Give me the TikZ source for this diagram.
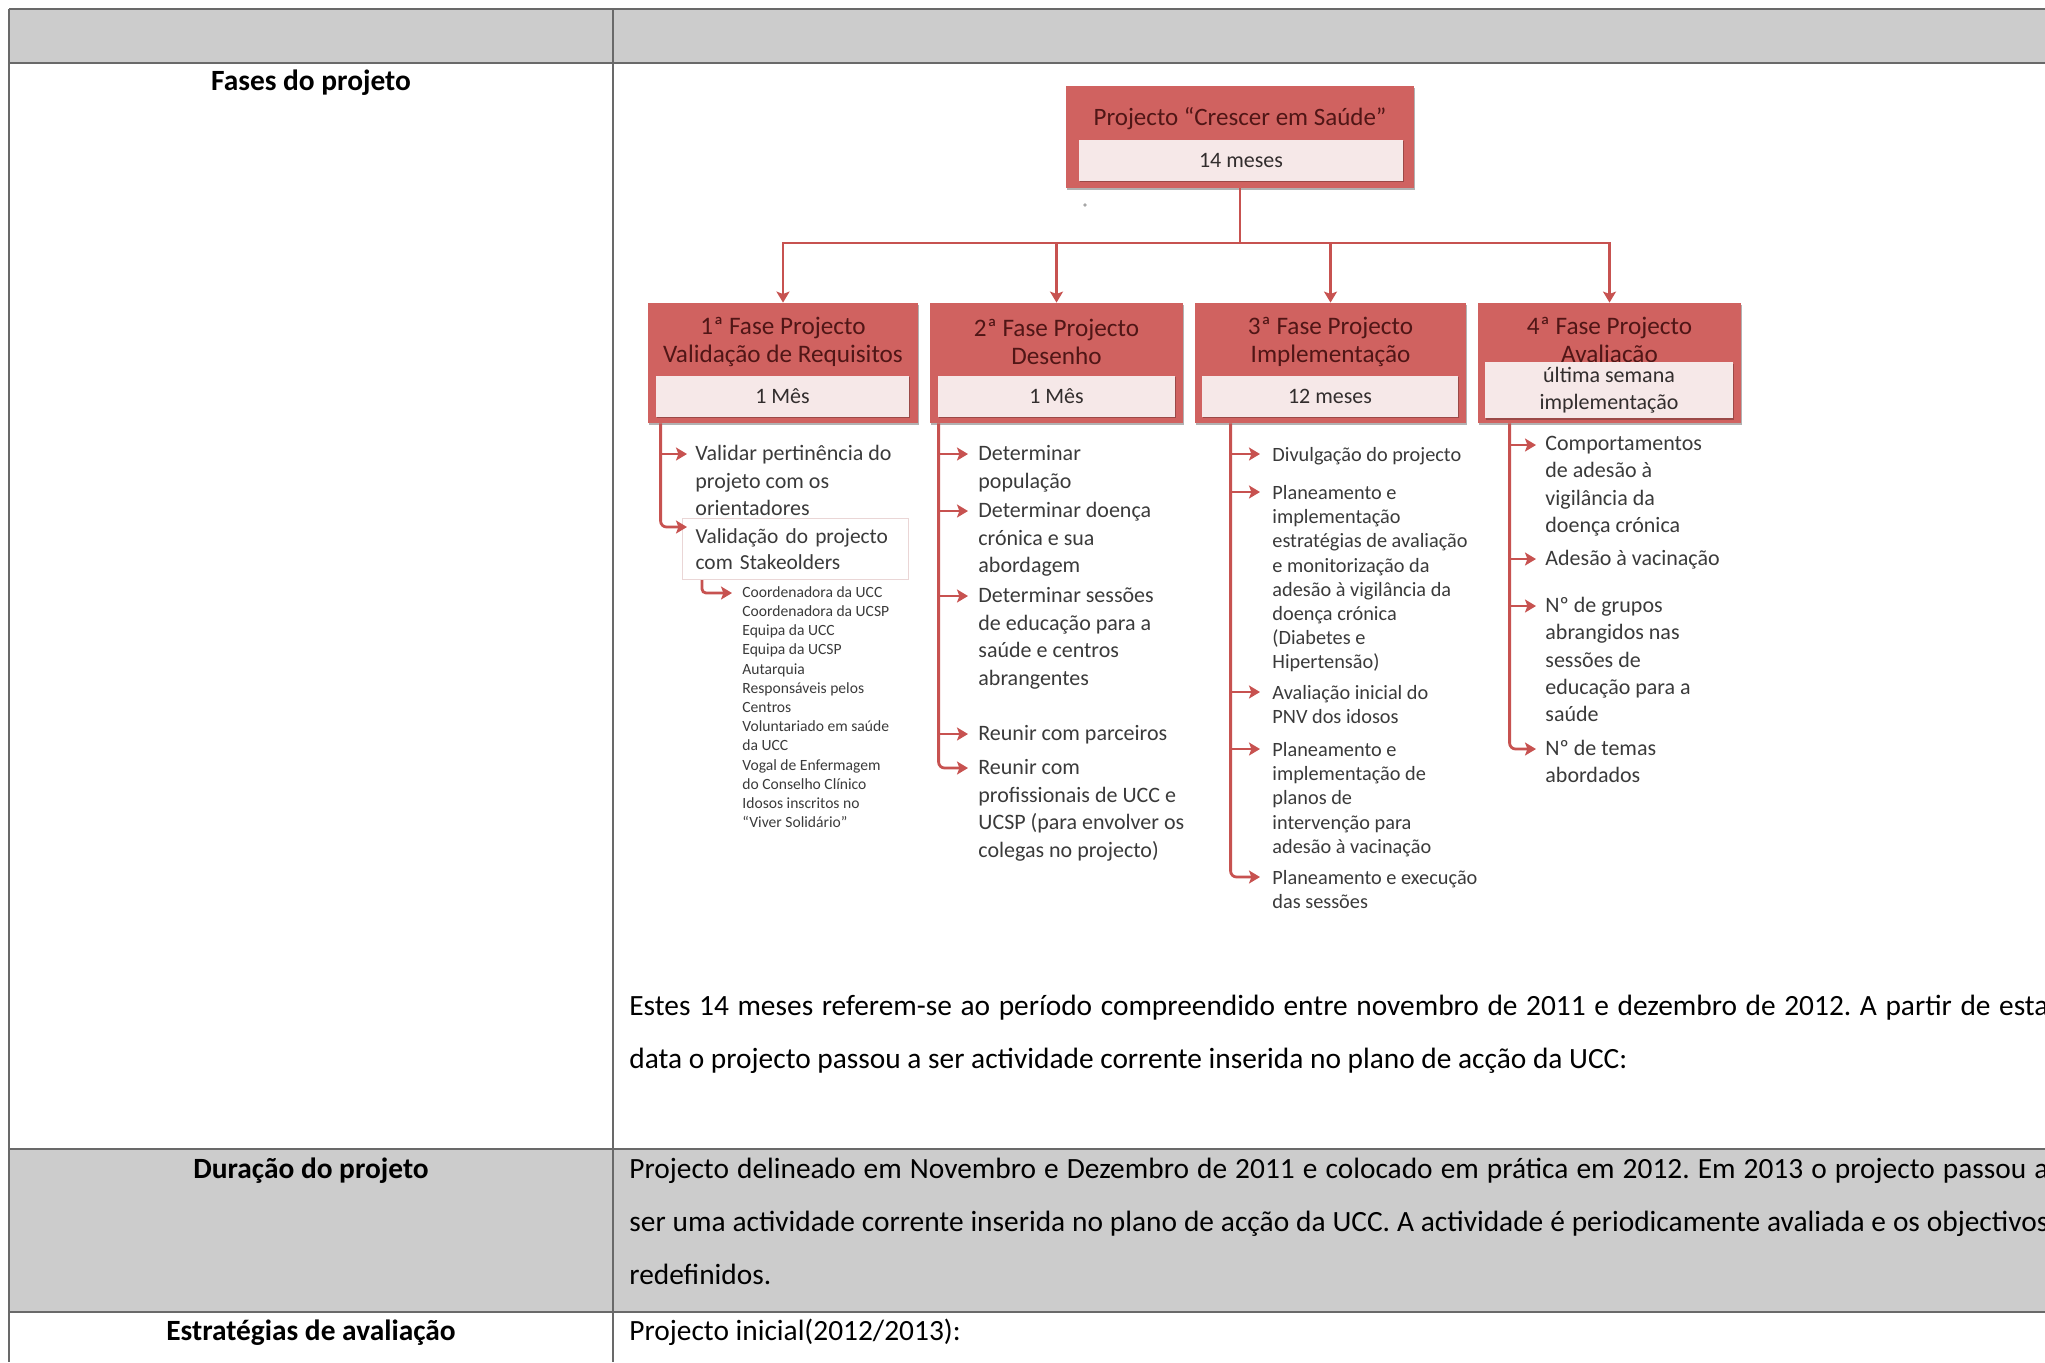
\documentclass[tikz,border=0pt]{standalone}
\usepackage{fontspec}
\setmainfont{Carlito}
\usetikzlibrary{arrows.meta,calc,shadows}
\definecolor{tgray}{RGB}{204,204,204}
\definecolor{tline}{RGB}{105,105,105}
\definecolor{boxred}{RGB}{208,98,96}
\definecolor{titlec}{RGB}{80,22,22}
\definecolor{innerc}{RGB}{246,232,232}
\definecolor{durc}{RGB}{50,45,45}
\definecolor{linec}{RGB}{199,82,80}
\definecolor{itemc}{RGB}{58,58,58}
\definecolor{faintc}{RGB}{234,214,214}
\newlength\refw
\frenchspacing
\begin{document}
\settowidth\refw{\fontsize{10}{12}\selectfont data o projecto passou a ser actividade corrente inserida no plano de acção da UCC:}
\pgfmathsetmacro\tfs{4990/\refw}
\begin{tikzpicture}[x=0.5pt,y=-0.5pt,
  tl/.style={draw=tline,line width=1.4pt},
  lab/.style={inner sep=0pt,anchor=base,font=\fontsize{\tfs}{\tfs}\selectfont\bfseries},
  body/.style={inner sep=0pt,anchor=base west,font=\fontsize{\tfs}{\tfs}\selectfont},
  outer/.style={fill=boxred,draw=none,minimum height=60pt,inner sep=0pt,
    drop shadow={shadow xshift=0.5pt,shadow yshift=-1pt,opacity=0.3,fill=black}},
  ptitle/.style={font=\fontsize{12.6}{14}\selectfont,text=titlec,align=center,inner sep=0pt},
  innerbox/.style={fill=innerc,draw=none,inner sep=0pt,minimum height=20.5pt,
    font=\fontsize{11}{13.5}\selectfont,text=durc,align=center,
    drop shadow={shadow xshift=0.5pt,shadow yshift=-0.8pt,opacity=0.25,fill=black}},
  conn/.style={draw=linec,line width=1.4pt},
  arr/.style={conn,-{Stealth[length=5.5pt,width=6.5pt,inset=1.2pt]}},
  itA/.style={anchor=north west,inner sep=0pt,align=left,text=itemc,font=\fontsize{11}{13.75}\selectfont},
  itB/.style={itA,font=\fontsize{11}{13.8}\selectfont},
  itC/.style={itA,font=\fontsize{10.15}{12.1}\selectfont},
  itD/.style={itA,font=\fontsize{11}{13.6}\selectfont},
  itS/.style={itA,font=\fontsize{7.8}{9.6}\selectfont}
]
\useasboundingbox (0,0) rectangle (2045,1362);
\clip (0,0) rectangle (2045,1362);
% table
\fill[tgray] (9,9) rectangle (2045,63);
\fill[tgray] (9,1149) rectangle (2045,1312);
\draw[tl] (9,9) -- (2045,9);
\draw[tl] (9,63) -- (2045,63);
\draw[tl] (9,1149) -- (2045,1149);
\draw[tl] (9,1312) -- (2045,1312);
\draw[tl] (9,9) -- (9,1362);
\draw[tl] (613,9) -- (613,1362);
\node[lab] (l1) at (311,90) {Fases do projeto};
\node[lab] (l2) at (311,1178) {Duração do projeto};
\node[lab] (l3) at (311,1340) {Estratégias de avaliação};
\node[body] (t1) at (629,1015) {\hbox to 709.5pt{Estes 14 meses referem-se ao período compreendido entre novembro de 2011 e dezembro de 2012. A partir de esta}};
\node[body] (t2) at (629,1068) {data o projecto passou a ser actividade corrente inserida no plano de acção da UCC:};
\node[body] (t3) at (629,1178) {\hbox to 709.5pt{Projecto delineado em Novembro e Dezembro de 2011 e colocado em prática em 2012. Em 2013 o projecto passou a}};
\node[body] (t4) at (629,1231) {\hbox to 709.5pt{ser uma actividade corrente inserida no plano de acção da UCC. A actividade é periodicamente avaliada e os objectivos}};
\node[body] (t5) at (629,1284) {redefinidos.};
\node[body] (t6) at (629,1340) {Projecto inicial(2012/2013):};
% top box
\node[outer,minimum width=174pt,minimum height=51pt] (top) at (1240,137) {};
\node[ptitle,font=\fontsize{12.5}{15}\selectfont] (toptitle) at (1240,119) {Projecto “Crescer em Saúde”};
\node[innerbox,minimum width=162pt] (topdur) at (1241,160) {14 meses};
\fill[black!35] (1085,205) circle (0.9pt);
% phase boxes
\node[outer,minimum width=135pt] (p1) at (783,363) {};
\node[ptitle] (p1t) at (783,342) {1ª Fase Projecto\\Validação de Requisitos};
\node[innerbox,minimum width=126.5pt] (p1d) at (782.5,396) {1 Mês};
\node[outer,minimum width=126.5pt] (p2) at (1056.5,363) {};
\node[ptitle] (p2t) at (1056.5,342) {2ª Fase Projecto\\Desenho};
\node[innerbox,minimum width=118.5pt] (p2d) at (1056.5,396) {1 Mês};
\node[outer,minimum width=135.5pt] (p3) at (1330.5,363) {};
\node[ptitle] (p3t) at (1330.5,342) {3ª Fase Projecto\\Implementação};
\node[innerbox,minimum width=128pt] (p3d) at (1330,396) {12 meses};
\node[outer,minimum width=131.5pt] (p4) at (1609.5,363) {};
\node[ptitle] (p4t) at (1609.5,342) {4ª Fase Projecto\\Avaliação};
\node[innerbox,minimum width=124pt,minimum height=28pt] (p4d) at (1609,390) {última semana\\implementação};
% bus
\coordinate (bus) at (1240,243);
\draw[conn] (top.south) -- (bus);
\draw[arr] (bus) -| (p1.north);
\draw[arr] (bus) -| (p2.north);
\draw[arr] (bus) -| (p3.north);
\draw[arr] (bus) -| (p4.north);
% spines
\coordinate (s1) at ($(p1.south west)+(13,0)$);
\coordinate (s2) at ($(p2.south west)+(9,0)$);
\coordinate (s3) at ($(p3.south west)+(36,0)$);
\coordinate (s4) at ($(p4.south west)+(32,0)$);
% phase 1
\node[itA] (i11) at (695,445) {Validar pertinência do\\projeto com os\\orientadores};
\node[itA,draw=faintc,line width=0.6pt,text width=100pt,inner xsep=6.5pt,inner ysep=5pt,font=\fontsize{10.7}{13}\selectfont] (i12) at (682,518) {Validação do projecto\\com Stakeolders};
\node[itS] (st) at (742,586) {Coordenadora da UCC\\Coordenadora da UCSP\\Equipa da UCC\\Equipa da UCSP\\Autarquia\\Responsáveis pelos\\Centros\\Voluntariado em saúde\\da UCC\\Vogal de Enfermagem\\do Conselho Clínico\\Idosos inscritos no\\“Viver Solidário”};
\coordinate (a11) at ($(i11.north west)+(-8,9)$);
\coordinate (a12) at ($(i12.north west)+(5,9)$);
\coordinate (ast) at ($(st.north west)+(-10,7)$);
\draw[arr] (s1 |- a11) -- (a11);
\draw[arr,rounded corners=3pt] (s1) |- (a12);
\draw[arr,rounded corners=2pt] ($(i12.south west)+(20,0)$) |- (ast);
% phase 2
\node[itB] (i21) at (978,445) {Determinar\\população};
\node[itB] (i22) at (978,502) {Determinar doença\\crónica e sua\\abordagem};
\node[itB] (i23) at (978,587) {Determinar sessões\\de educação para a\\saúde e centros\\abrangentes};
\node[itB] (i24) at (978,725) {Reunir com parceiros};
\node[itB] (i25) at (978,759) {Reunir com\\profissionais de UCC e\\UCSP (para envolver os\\colegas no projecto)};
\foreach \k in {1,...,5} {\coordinate (a2\k) at ($(i2\k.north west)+(-10,9)$);}
\foreach \k in {1,...,4} {\draw[arr] (s2 |- a2\k) -- (a2\k);}
\draw[arr,rounded corners=3pt] (s2) |- (a25);
% phase 3
\node[itC] (i31) at (1272,447) {Divulgação do projecto};
\node[itC] (i32) at (1272,485) {Planeamento e\\implementação\\estratégias de avaliação\\e monitorização da\\adesão à vigilância da\\doença crónica\\(Diabetes e\\Hipertensão)};
\node[itC] (i33) at (1272,685) {Avaliação inicial do\\PNV dos idosos};
\node[itC] (i34) at (1272,742) {Planeamento e\\implementação de\\planos de\\intervenção para\\adesão à vacinação};
\node[itC] (i35) at (1272,870) {Planeamento e execução\\das sessões};
\foreach \k in {1,...,5} {\coordinate (a3\k) at ($(i3\k.north west)+(-12,7)$);}
\foreach \k in {1,...,4} {\draw[arr] (s3 |- a3\k) -- (a3\k);}
\draw[arr,rounded corners=3pt] (s3) |- (a35);
% phase 4
\node[itD] (i41) at (1545,436) {Comportamentos\\de adesão à\\vigilância da\\doença crónica};
\node[itD] (i42) at (1545,550) {Adesão à vacinação};
\node[itD] (i43) at (1545,597) {Nº de grupos\\abrangidos nas\\sessões de\\educação para a\\saúde};
\node[itD] (i44) at (1545,740) {Nº de temas\\abordados};
\foreach \k in {1,...,4} {\coordinate (a4\k) at ($(i4\k.north west)+(-9,9)$);}
\foreach \k in {1,...,3} {\draw[arr] (s4 |- a4\k) -- (a4\k);}
\draw[arr,rounded corners=3pt] (s4) |- (a44);
\end{tikzpicture}
\end{document}
